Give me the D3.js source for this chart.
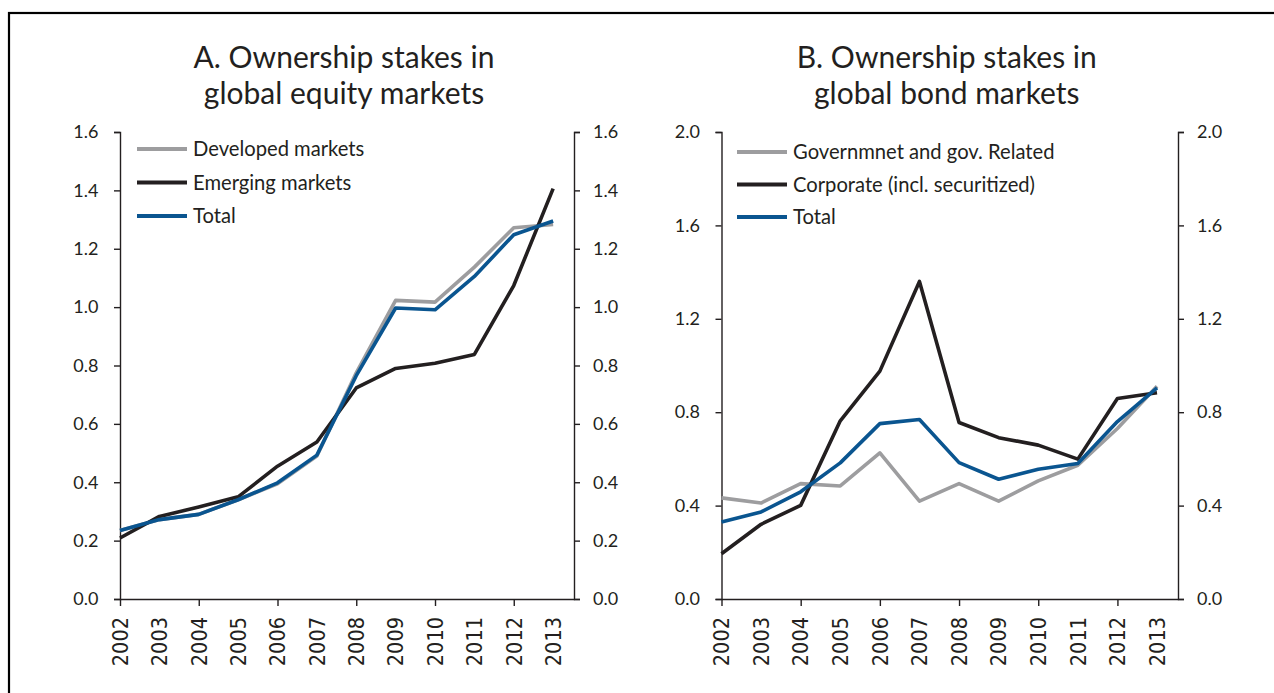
<!DOCTYPE html>
<html>
<head>
<meta charset="utf-8">
<script src="https://cdn.jsdelivr.net/npm/d3@7"></script>
<style>
  html, body { margin: 0; padding: 0; background: #fff; }
  svg { display: block; }
  text { font-family: Lato, "Open Sans", sans-serif; fill: #231f20; }
  text.year { font-family: "Liberation Sans Narrow", "Arial Narrow", "DejaVu Sans Condensed", sans-serif; }
</style>
</head>
<body>
<svg id="chart" width="1274" height="693"></svg>
<script>
// Years on the horizontal axis
const years = [2002, 2003, 2004, 2005, 2006, 2007, 2008, 2009, 2010, 2011, 2012, 2013];
const yearTicks = [2002, 2004, 2006, 2008, 2010, 2012];

// Panel A: ownership stakes in global equity markets (per cent)
const equityDeveloped = [0.235, 0.272, 0.29, 0.34, 0.395, 0.49, 0.775, 1.023, 1.017, 1.137, 1.272, 1.283];
const equityEmerging  = [0.209, 0.283, 0.315, 0.35, 0.455, 0.538, 0.723, 0.79, 0.808, 0.838, 1.074, 1.406];
const equityTotal     = [0.235, 0.272, 0.29, 0.34, 0.398, 0.493, 0.765, 0.997, 0.991, 1.105, 1.248, 1.295];
const equityTicks = [0, 0.2, 0.4, 0.6, 0.8, 1.0, 1.2, 1.4, 1.6];

// Panel B: ownership stakes in global bond markets (per cent)
const bondGovernment = [0.433, 0.411, 0.494, 0.484, 0.626, 0.419, 0.494, 0.419, 0.506, 0.573, 0.73, 0.911];
const bondCorporate  = [0.194, 0.32, 0.401, 0.763, 0.976, 1.36, 0.756, 0.691, 0.659, 0.599, 0.859, 0.883];
const bondTotal      = [0.33, 0.373, 0.459, 0.583, 0.751, 0.769, 0.584, 0.513, 0.556, 0.58, 0.76, 0.904];
const bondTicks = [0, 0.4, 0.8, 1.2, 1.6, 2.0];

const GREY = "#9d9d9f", BLACK = "#231f20", BLUE = "#0a5590";

const svg = d3.select("#chart");

// outer frame
svg.append("rect")
  .attr("x", 9).attr("y", 13).attr("width", 1300).attr("height", 720)
  .attr("fill", "none").attr("stroke", "#000").attr("stroke-width", 2.2);

function panel(opts) {
  const g = svg.append("g");
  const x = d3.scaleLinear().domain([2002, 2013.53]).range([opts.left, opts.right]);
  const y = d3.scaleLinear().domain([0, opts.ymax]).range([599, 132]);

  // title
  const t = g.append("text")
    .attr("text-anchor", "middle")
    .style("font-size", "30px");
  opts.title.forEach((line, i) => {
    t.append("tspan").attr("x", (opts.left + opts.right) / 2 - 3).attr("y", 68 + i * 36).text(line);
  });

  // axes
  const styleAxis = sel => {
    sel.selectAll("path, line").attr("stroke", "#231f20").attr("stroke-width", 1.4);
    sel.selectAll("text").style("font-size", "18px").attr("fill", "#231f20");
  };
  g.append("g").attr("transform", `translate(${opts.left},0)`)
    .call(d3.axisLeft(y).tickValues(opts.ticks).tickFormat(d3.format(".1f")).tickSize(6).tickPadding(15.5))
    .call(styleAxis);
  g.append("g").attr("transform", `translate(${opts.right},0)`)
    .call(d3.axisRight(y).tickValues(opts.ticks).tickFormat(d3.format(".1f")).tickSize(6).tickPadding(13))
    .call(styleAxis);
  g.append("g").attr("transform", `translate(0,599)`)
    .call(d3.axisBottom(x).tickValues(yearTicks).tickFormat("").tickSizeInner(7).tickSizeOuter(0))
    .call(styleAxis);

  // rotated year labels
  g.selectAll("text.year").data(years).join("text")
    .attr("class", "year")
    .attr("transform", d => `translate(${x(d)},617) rotate(-90)`)
    .attr("text-anchor", "end")
    .attr("dy", "0.36em")
    .style("font-size", "21.5px")
    .text(d => d);

  // series lines
  const line = d3.line().x((d, i) => x(years[i])).y(d => y(d));
  opts.series.forEach(s => {
    g.append("path").datum(s.values)
      .attr("d", line)
      .attr("fill", "none")
      .attr("stroke", s.color)
      .attr("stroke-width", 3.6)
      .attr("stroke-linejoin", "round");
  });

  // legend
  opts.series.forEach((s, i) => {
    const ly = opts.legendY + i * opts.legendStep;
    g.append("line")
      .attr("x1", opts.legendX).attr("x2", opts.legendX + 50)
      .attr("y1", ly).attr("y2", ly)
      .attr("stroke", s.color).attr("stroke-width", 4);
    g.append("text")
      .attr("x", opts.legendX + 56).attr("y", ly)
      .attr("dy", "0.35em")
      .style("font-size", "20.2px")
      .text(s.name);
  });
}

panel({
  left: 120, right: 574, ymax: 1.6, ticks: equityTicks,
  title: ["A. Ownership stakes in", "global equity markets"],
  legendX: 137, legendY: 149, legendStep: 33.5,
  series: [
    { name: "Developed markets", values: equityDeveloped, color: GREY },
    { name: "Emerging markets", values: equityEmerging, color: BLACK },
    { name: "Total", values: equityTotal, color: BLUE }
  ]
});

panel({
  left: 721.5, right: 1178, ymax: 2.0, ticks: bondTicks,
  title: ["B. Ownership stakes in", "global bond markets"],
  legendX: 737, legendY: 152, legendStep: 32.5,
  series: [
    { name: "Governmnet and gov. Related", values: bondGovernment, color: GREY },
    { name: "Corporate (incl. securitized)", values: bondCorporate, color: BLACK },
    { name: "Total", values: bondTotal, color: BLUE }
  ]
});
</script>
</body>
</html>
